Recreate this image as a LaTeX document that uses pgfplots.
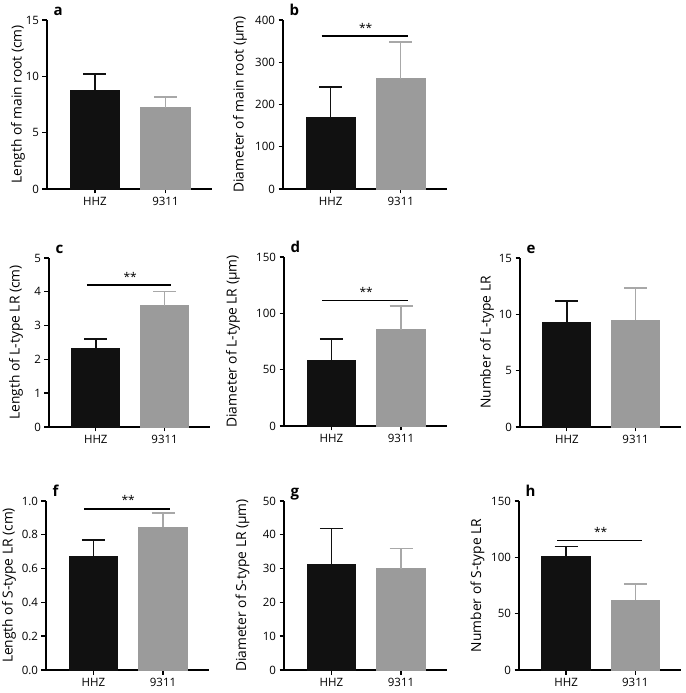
\documentclass[border=0pt]{standalone}
\usepackage{fontspec}
\setmainfont{Open Sans}
\usepackage{pgfplots}
\pgfplotsset{compat=1.18}
\definecolor{cA}{HTML}{111111}
\definecolor{cB}{HTML}{9B9B9B}
\definecolor{cBe}{HTML}{A8A8A8}
\pgfplotsset{
  panel/.style={
    scale only axis, height=169pt,
    xmin=0.32, xmax=2.66, ymin=0,
    axis x line*=bottom, axis y line*=left,
    axis line style={line width=1.4pt, -},
    xtick={1,2}, xticklabels={HHZ,9311},
    tick align=outside, major tick length=4.5pt,
    tick style={line width=1.4pt, black},
    ybar, bar width=0.7, bar shift=0pt,
    tick label style={font=\fontsize{11.5}{13}\selectfont},
    label style={font=\fontsize{13.8}{15}\selectfont},
    /pgf/number format/assume math mode=true,
    clip=false,
  },
  ylab/.style={ylabel style={at={(axis description cs:-#1,0.5)}, anchor=center}},
  hhz/.style={fill=cA, draw=cA, line width=0.8pt,
    error bars/.cd, y dir=plus, y explicit,
    error bar style={line width=1.5pt, cA},
    error mark options={cA, line width=1.5pt, mark size=11.5pt, rotate=90}},
  rice/.style={fill=cB, draw=cB, line width=0.8pt,
    error bars/.cd, y dir=plus, y explicit,
    error bar style={line width=1.5pt, cBe},
    error mark options={cBe, line width=1.5pt, mark size=11.5pt, rotate=90}},
}
\tikzset{tag/.style={anchor=base west, font=\bfseries\fontsize{15}{15}\selectfont}}
\newcommand{\sig}[1]{%
  \draw[line width=1.4pt] (axis cs:0.87,#1) -- (axis cs:2.1,#1);
  \node[anchor=base, font=\fontsize{12}{12}\selectfont] at (axis cs:1.5,#1) [yshift=4pt] {**};}
\begin{document}
\begin{tikzpicture}
\path[use as bounding box] (0,0) rectangle (685pt,693pt);
% a
\begin{axis}[panel, at={(47pt,504pt)}, anchor=south west, width=165pt,
  ymax=15, ytick={0,5,10,15}, ylabel={Length of main root (cm)}, ylab=0.176]
\addplot[hhz] coordinates {(1,8.73) +- (0,1.47)};
\addplot[rice] coordinates {(2,7.23) +- (0,0.94)};
\node[tag] at (rel axis cs:0,1) [xshift=3pt, yshift=4pt] {a};
\end{axis}
% b
\begin{axis}[panel, at={(283pt,504pt)}, anchor=south west, width=164pt,
  ymax=400, ytick={0,100,200,300,400}, ylabel={Diameter of main root (µm)}, ylab=0.262]
\addplot[hhz] coordinates {(1,170) +- (0,71)};
\addplot[rice] coordinates {(2,261.5) +- (0,86.5)};
\sig{362}
\node[tag] at (rel axis cs:0,1) [xshift=3pt, yshift=4pt] {b};
\end{axis}
% c
\begin{axis}[panel, at={(49pt,266pt)}, anchor=south west, width=161pt,
  ymax=5, ytick={0,1,2,3,4,5}, ylabel={Length of L-type LR (cm)}, ylab=0.205]
\addplot[hhz] coordinates {(1,2.33) +- (0,0.27)};
\addplot[rice] coordinates {(2,3.59) +- (0,0.42)};
\sig{4.2}
\node[tag] at (rel axis cs:0,1) [xshift=3pt, yshift=4pt] {c};
\end{axis}
% d
\begin{axis}[panel, at={(284pt,267pt)}, anchor=south west, width=163pt,
  ymax=150, ytick={0,50,100,150}, ylabel={Diameter of L-type LR (µm)}, ylab=0.313]
\addplot[hhz] coordinates {(1,57.9) +- (0,19.1)};
\addplot[rice] coordinates {(2,85.6) +- (0,20.7)};
\sig{111.3}
\node[tag] at (rel axis cs:0,1) [xshift=3pt, yshift=4pt] {d};
\end{axis}
% e
\begin{axis}[panel, at={(520pt,266pt)}, anchor=south west, width=161pt,
  ymax=15, ytick={0,5,10,15}, ylabel={Number of L-type LR}, ylab=0.205]
\addplot[hhz] coordinates {(1,9.3) +- (0,1.87)};
\addplot[rice] coordinates {(2,9.5) +- (0,2.82)};
\node[tag] at (rel axis cs:0,1) [xshift=3pt, yshift=4pt] {e};
\end{axis}
% f
\begin{axis}[panel, at={(46pt,23pt)}, anchor=south west, width=163pt,
  ymax=1, ytick={0,0.2,0.4,0.6,0.8,1.0},
  yticklabel style={/pgf/number format/.cd, fixed, fixed zerofill, precision=1},
  ylabel={Length of S-type LR (cm)}, ylab=0.227]
\addplot[hhz] coordinates {(1,0.675) +- (0,0.093)};
\addplot[rice] coordinates {(2,0.846) +- (0,0.083)};
\sig{0.953}
\node[tag] at (rel axis cs:0,1) [xshift=3pt, yshift=4pt] {f};
\end{axis}
% g
\begin{axis}[panel, at={(284pt,23pt)}, anchor=south west, width=163pt,
  ymax=50, ytick={0,10,20,30,40,50}, ylabel={Diameter of S-type LR (µm)}, ylab=0.255]
\addplot[hhz] coordinates {(1,31.1) +- (0,10.8)};
\addplot[rice] coordinates {(2,30.0) +- (0,5.9)};
\node[tag] at (rel axis cs:0,1) [xshift=3pt, yshift=4pt] {g};
\end{axis}
% h
\begin{axis}[panel, at={(519pt,23pt)}, anchor=south west, width=162pt,
  ymax=150, ytick={0,50,100,150}, ylabel={Number of S-type LR}, ylab=0.256]
\addplot[hhz] coordinates {(1,100.4) +- (0,9.2)};
\addplot[rice] coordinates {(2,61.7) +- (0,14.8)};
\sig{115.2}
\node[tag] at (rel axis cs:0,1) [xshift=3pt, yshift=4pt] {h};
\end{axis}
\end{tikzpicture}
\end{document}
